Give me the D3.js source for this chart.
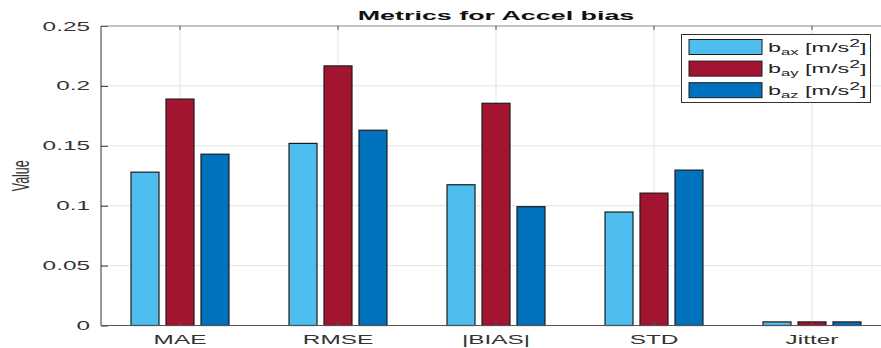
<!DOCTYPE html>
<html>
<head>
<meta charset="utf-8">
<script src="https://cdn.jsdelivr.net/npm/d3@7"></script>
<style>
  body { margin: 0; background: #fff; }
  text { font-family: "Liberation Sans", Arial, sans-serif; }
</style>
</head>
<body>
<div class="chart"></div>
<script>
const metrics = ["MAE", "RMSE", "|BIAS|", "STD", "Jitter"];
const series = ["ax", "ay", "az"];
const bax = [0.128, 0.152, 0.1175, 0.0947, 0.003];
const bay = [0.189, 0.2167, 0.1855, 0.1105, 0.003];
const baz = [0.143, 0.163, 0.0992, 0.1297, 0.003];
const yTicks = [0, 0.05, 0.1, 0.15, 0.2, 0.25];
const colors = ["#4DBEEE", "#A2142F", "#0072BD"];

const W = 881, H = 348;
const S = 1.95; // the picture's text is stretched wide
const plot = { left: 101, right: 891, top: 26, bottom: 325.5 };

const svg = d3.select(".chart").append("svg")
    .attr("width", W)
    .attr("height", H)
    .style("display", "block");

const data = metrics.map((m, i) => ({ metric: m, values: [bax[i], bay[i], baz[i]] }));

const x0 = d3.scaleBand()
    .domain(metrics)
    .range([plot.left, plot.right])
    .paddingInner(0.38)
    .paddingOuter(0.19);

const x1 = d3.scaleBand()
    .domain(series)
    .range([0, x0.bandwidth()])
    .paddingInner(0.2)
    .paddingOuter(0);

const y = d3.scaleLinear()
    .domain([0, 0.25])
    .range([plot.bottom, plot.top]);

// grid
svg.append("g")
    .selectAll("line")
    .data(yTicks.slice(1, -1))
    .join("line")
    .attr("x1", plot.left).attr("x2", plot.right)
    .attr("y1", d => y(d)).attr("y2", d => y(d))
    .attr("stroke", "#e3e3e3");

svg.append("g")
    .selectAll("line")
    .data(metrics)
    .join("line")
    .attr("x1", d => x0(d) + x0.bandwidth() / 2)
    .attr("x2", d => x0(d) + x0.bandwidth() / 2)
    .attr("y1", plot.top).attr("y2", plot.bottom)
    .attr("stroke", "#e3e3e3");

// bars
svg.append("g")
    .selectAll("g")
    .data(data)
    .join("g")
    .attr("transform", d => `translate(${x0(d.metric)},0)`)
    .selectAll("rect")
    .data(d => d.values.map((v, k) => ({ key: series[k], v, k })))
    .join("rect")
    .attr("x", d => x1(d.key))
    .attr("width", x1.bandwidth())
    .attr("y", d => y(d.v))
    .attr("height", d => y(0) - y(d.v))
    .attr("fill", d => colors[d.k])
    .attr("stroke", "#1c1c1c")
    .attr("stroke-width", 1.2);

// y axis
const yAxis = d3.axisLeft(y)
    .tickValues(yTicks)
    .tickSize(-7)
    .tickPadding(10)
    .tickFormat(d => d === 0 ? "0" : String(d));

svg.append("g")
    .attr("transform", `translate(${plot.left},0)`)
    .call(yAxis)
    .call(g => g.select(".domain").attr("stroke", "#333").attr("d", `M0,${plot.top}V${plot.bottom}`))
    .call(g => g.selectAll(".tick line").attr("stroke", "#333"))
    .call(g => g.selectAll(".tick text")
        .attr("font-size", 12.5)
        .attr("fill", "#333")
        .attr("x", -11 / S)
        .attr("transform", `scale(${S},1)`));

// x axis
const xAxis = d3.axisBottom(x0)
    .tickSize(-4)
    .tickPadding(10);

svg.append("g")
    .attr("transform", `translate(0,${plot.bottom})`)
    .call(xAxis)
    .call(g => g.select(".domain").attr("stroke", "#555").attr("d", `M${plot.left},0H${plot.right}`))
    .call(g => g.selectAll(".tick line").attr("stroke", "#555"))
    .call(g => g.selectAll(".tick text")
        .attr("font-size", 12.5)
        .attr("fill", "#333")
        .attr("transform", `scale(${S},1)`));

// top border with small ticks
svg.append("line")
    .attr("x1", plot.left).attr("x2", plot.right)
    .attr("y1", plot.top).attr("y2", plot.top)
    .attr("stroke", "#888");
svg.append("g")
    .selectAll("line")
    .data(metrics)
    .join("line")
    .attr("x1", d => x0(d) + x0.bandwidth() / 2)
    .attr("x2", d => x0(d) + x0.bandwidth() / 2)
    .attr("y1", plot.top).attr("y2", plot.top + 4)
    .attr("stroke", "#555");

// title
svg.append("text")
    .attr("transform", `translate(${(plot.left + plot.right) / 2},20) scale(2.15,1)`)
    .attr("text-anchor", "middle")
    .attr("font-size", 12.5)
    .attr("font-weight", "bold")
    .attr("fill", "#111")
    .text("Metrics for Accel bias");

// y label
svg.append("text")
    .attr("transform", `translate(29,${(plot.top + plot.bottom) / 2}) scale(${S},1) rotate(-90)`)
    .attr("text-anchor", "middle")
    .attr("font-size", 12.5)
    .attr("fill", "#333")
    .text("Value");

// legend
const legend = svg.append("g");
legend.append("rect")
    .attr("x", 681.5).attr("y", 34.5)
    .attr("width", 189).attr("height", 68)
    .attr("fill", "#fff")
    .attr("stroke", "#333");

const rows = legend.selectAll("g.row")
    .data(series)
    .join("g")
    .attr("class", "row")
    .attr("transform", (d, i) => `translate(0,${39.5 + i * 21.6})`);

rows.append("rect")
    .attr("x", 689).attr("y", 0)
    .attr("width", 73).attr("height", 15)
    .attr("fill", (d, i) => colors[i])
    .attr("stroke", "#1c1c1c")
    .attr("stroke-width", 1);

const lt = rows.append("text")
    .attr("transform", `translate(768,12) scale(${S},1)`)
    .attr("font-size", 12)
    .attr("fill", "#222");
lt.append("tspan").text("b");
lt.append("tspan").attr("font-size", 8.5).attr("dy", 3).text(d => d);
lt.append("tspan").attr("dy", -3).text(" [m/s");
lt.append("tspan").attr("font-size", 10).attr("dy", -5).text("2");
lt.append("tspan").attr("dy", 5).text("]");
</script>
</body>
</html>
